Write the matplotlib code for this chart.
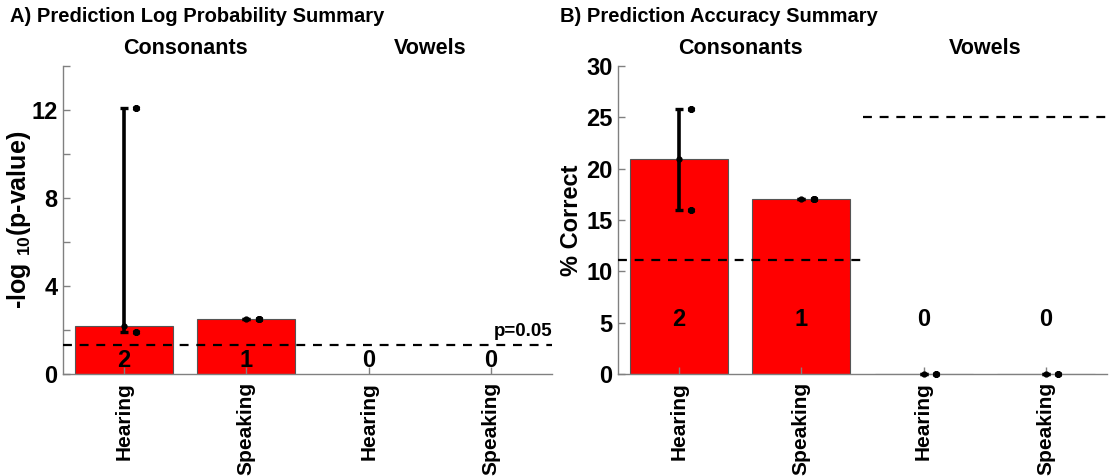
"""Prediction summary figure: log p-values and accuracy per condition."""

import numpy as np
import matplotlib

matplotlib.use("Agg")
import matplotlib.pyplot as plt

plt.rcParams["font.family"] = ["Liberation Sans", "DejaVu Sans"]
plt.rcParams["font.weight"] = "bold"
plt.rcParams["mathtext.default"] = "regular"

# data
conditions = ["Hearing", "Speaking", "Hearing", "Speaking"]
groups = ["Consonants", "Vowels"]

logp_bar = [2.18, 2.48, np.nan, np.nan]
logp_lo = [1.9, 2.48, np.nan, np.nan]
logp_hi = [12.1, 2.48, np.nan, np.nan]
logp_points = [[12.1, 1.9], [2.48, 2.48], [], []]
logp_counts = [2, 1, 0, 0]
logp_thresh = -np.log10(0.05)

acc_bar = [20.9, 17.0, 0.0, 0.0]
acc_lo = [16.0, 17.0, 0.0, 0.0]
acc_hi = [25.8, 17.0, 0.0, 0.0]
acc_points = [[25.8, 16.0], [17.0, 17.0], [0.0], [0.0]]
acc_counts = [2, 1, 0, 0]
acc_chance = [11.1, 25.0]

BAR_COLOR = "#FF0000"
AXIS_GRAY = "#808080"
ASTERISK = (6, 2, 0)


def style_axes(ax, ylim, major, minor):
    for s in ["top", "right"]:
        ax.spines[s].set_visible(False)
    for s in ["left", "bottom"]:
        ax.spines[s].set_color(AXIS_GRAY)
        ax.spines[s].set_linewidth(1.0)
    ax.set_xlim(0.5, 4.5)
    ax.set_ylim(*ylim)
    ax.set_yticks(major)
    ax.set_yticks(minor, minor=True)
    ax.tick_params(direction="in", color=AXIS_GRAY, length=5, width=1,
                   labelsize=17, labelcolor="black")
    ax.tick_params(which="minor", direction="in", color=AXIS_GRAY, length=5, width=1)
    ax.tick_params(axis="x", pad=6)
    ax.tick_params(axis="y", pad=4)
    ax.set_xticks(x)
    ax.set_xticklabels(conditions, rotation=90, fontsize=15, fontweight="bold")
    for lab in ax.get_yticklabels():
        lab.set_fontweight("bold")
    for i, g in enumerate(groups):
        ax.text(1.5 + 2 * i, 1.058, g, transform=ax.get_xaxis_transform(),
                ha="center", va="center", fontsize=15.5, fontweight="bold")


def draw_bars(ax, bars, lo, hi, points, counts, count_y):
    ax.bar(x, bars, width=0.8, color=BAR_COLOR, edgecolor="#555555", linewidth=0.8)
    for xi, b, l, h in zip(x, bars, lo, hi):
        if np.isnan(b):
            continue
        ax.errorbar([xi], [b], yerr=[[b - l], [h - b]], fmt=".", color="black",
                    ms=7, elinewidth=2.6, capsize=3, capthick=2.4, clip_on=False, zorder=4)
    for xi, pts in zip(x, points):
        if pts:
            ax.plot([xi + 0.1] * len(pts), pts, ls="none", marker=ASTERISK,
                    color="black", ms=5, mew=2, clip_on=False, zorder=4)
    for xi, c in zip(x, counts):
        ax.text(xi, count_y, str(c), ha="center", va="center",
                fontsize=17, fontweight="bold", zorder=5)


x = np.arange(1, 5)

fig = plt.figure(figsize=(11.12, 4.76), dpi=100)
ax1 = fig.add_axes([63 / 1112, 102 / 476, 489 / 1112, 308 / 476])
ax2 = fig.add_axes([618 / 1112, 102 / 476, 489 / 1112, 308 / 476])

# A) log probability
style_axes(ax1, (0, 14), [0, 4, 8, 12], [2, 6, 10, 14])
draw_bars(ax1, logp_bar, logp_lo, logp_hi, logp_points, logp_counts, 0.6)
ax1.axhline(logp_thresh, color="black", ls=(0, (4, 3.5)), lw=1.6, zorder=3)
ax1.text(4.5, logp_thresh + 0.25, "p=0.05", ha="right", va="bottom",
         fontsize=13.5, fontweight="bold")
ax1.set_ylabel("-log $_{10}$(p-value)", fontsize=18, fontweight="bold")
ax1.yaxis.set_label_coords(-0.062, 0.5)

# B) accuracy
style_axes(ax2, (0, 30), [0, 5, 10, 15, 20, 25, 30], [])
draw_bars(ax2, acc_bar, acc_lo, acc_hi, acc_points, acc_counts, 5.3)
for i, ch in enumerate(acc_chance):
    ax2.plot([0.5 + 2 * i, 2.5 + 2 * i], [ch, ch], color="black",
             ls=(0, (4, 3.5)), lw=1.6, zorder=3)
ax2.set_ylabel("% Correct", fontsize=17, fontweight="bold")
ax2.yaxis.set_label_coords(-0.072, 0.5)

fig.text(10 / 1112, 1 - 17 / 476, "A) Prediction Log Probability Summary",
         ha="left", va="center", fontsize=14.5, fontweight="bold")
fig.text(560 / 1112, 1 - 17 / 476, "B) Prediction Accuracy Summary",
         ha="left", va="center", fontsize=14.5, fontweight="bold")

fig.savefig("out.png", dpi=100)
